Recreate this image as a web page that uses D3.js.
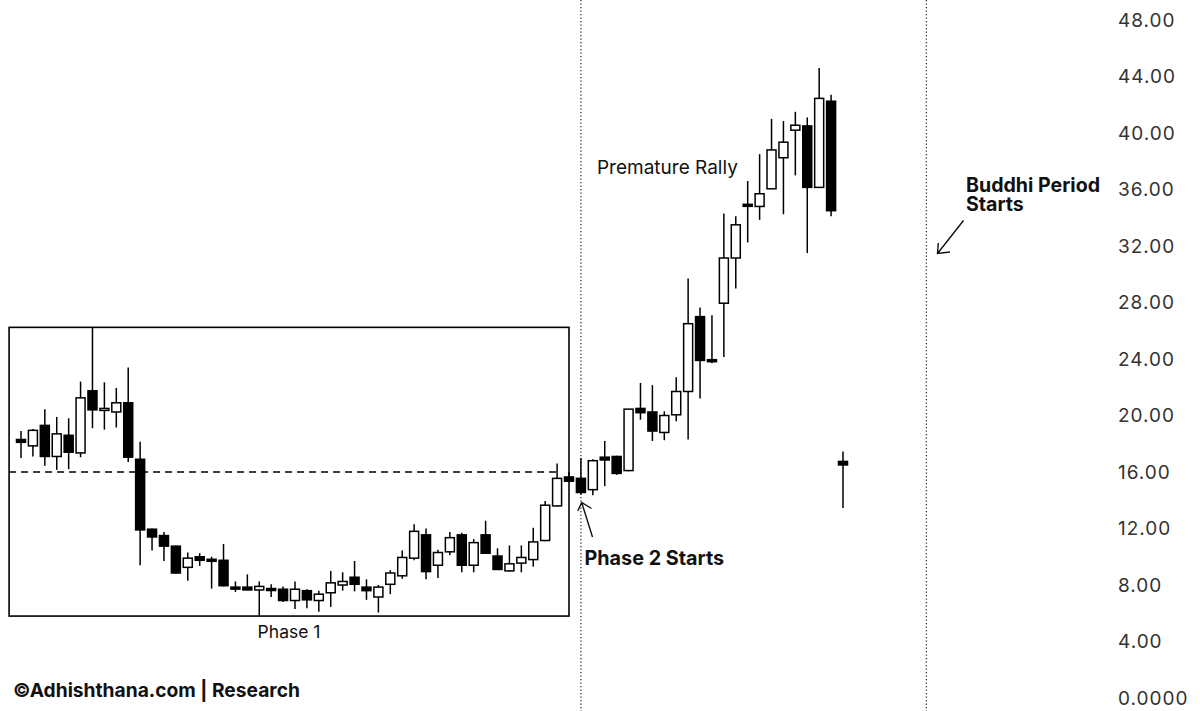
<!DOCTYPE html>
<html><head><meta charset="utf-8">
<script src="https://cdn.jsdelivr.net/npm/d3@7"></script>
<style>
html,body{margin:0;padding:0;background:#fff;}
svg{display:block;font-family:Inter,"Noto Sans",sans-serif;}
</style></head>
<body><svg id="c" width="1200" height="711"></svg>
<script>
// ---- data ----
const opens  = [18.3,17.85,19.3,17.1,18.6,17.35,21.75,20.45,20.25,20.9,16.9,11.95,11.5,10.75,9.25,10.0,9.82,9.75,7.85,7.85,7.65,7.75,7.7,6.9,7.6,6.9,7.45,8.0,8.55,7.85,7.15,8.05,8.65,9.9,11.55,9.4,10.35,11.55,9.4,11.55,10.05,9.0,9.55,9.8,11.15,13.6,15.65,15.55,14.75,17.05,17.1,16.1,20.5,20.25,18.8,20.05,21.7,27.0,23.95,27.95,31.15,34.95,34.8,36.05,38.25,40.2,40.5,36.15,42.25,16.75];
const highs  = [18.9,19.05,20.45,19.9,19.8,22.4,26.2,22.35,21.95,23.4,18.15,12.0,11.75,10.8,10.3,10.25,10.0,10.9,8.25,8.75,8.25,8.05,7.9,8.25,7.7,7.6,9.0,8.9,9.7,8.4,8.0,9.05,10.45,12.3,12.0,10.5,11.75,11.7,11.25,12.55,10.6,10.8,10.8,12.05,13.95,16.6,16.0,17.0,16.9,18.2,17.15,20.45,22.3,22.15,20.3,22.7,29.7,27.65,27.1,34.3,34.1,36.6,38.5,41.0,40.85,41.5,41.1,44.6,42.7,17.45];
const lows   = [17.0,17.1,16.45,16.15,16.2,17.05,19.1,19.0,19.15,16.7,9.4,10.45,9.7,8.8,8.3,9.35,7.75,7.9,7.5,7.65,5.8,7.15,6.8,6.3,6.35,6.1,6.45,7.6,7.55,6.95,6.05,7.35,8.45,9.75,8.4,8.5,10.1,8.9,8.9,10.2,9.1,8.95,8.9,9.3,11.1,13.55,15.3,14.4,14.35,15.0,15.8,16.05,19.7,18.2,18.25,19.6,18.3,21.2,23.7,24.15,29.0,32.25,33.85,36.05,34.25,37.0,31.5,36.15,34.1,13.45];
const closes = [18.1,18.95,17.1,18.7,17.4,21.25,20.4,20.5,20.9,17.05,11.9,11.4,10.75,8.85,9.9,9.75,9.8,7.95,7.8,7.65,7.9,7.7,6.9,7.7,6.95,7.35,8.15,8.25,8.05,7.6,7.85,8.85,9.95,11.8,8.95,10.3,11.35,9.4,11.0,10.25,9.1,9.5,9.95,11.05,13.65,15.55,15.35,14.55,16.8,16.85,15.9,20.45,20.2,18.9,20.0,21.7,26.5,23.9,23.9,31.15,33.5,34.85,35.7,38.8,39.35,40.55,36.15,42.45,34.5,16.5];
const yTicks = [0,4,8,12,16,20,24,28,32,36,40,44,48];
const yTickLabels = ["0.0000","4.00","8.00","12.00","16.00","20.00","24.00","28.00","32.00","36.00","40.00","44.00","48.00"];
const phaseLines = [47, 76];          // candle index of dotted verticals
const baseLevel = 16.0;               // dashed level inside phase 1 box
const phase1Box = {i0:-1, i1:46, top:26.24, bottom:5.8};

// ---- scales ----
const svg = d3.select("#c");
const x = d3.scaleLinear().domain([0, opens.length-1]).range([21, 843]);
const y = d3.scaleLinear().domain([0, 48]).range([698, 20]);
const bw = 9;

// dotted vertical lines
svg.selectAll("line.vl").data(phaseLines).join("line")
  .attr("x1", d=>x(d)).attr("x2", d=>x(d)).attr("y1", 0).attr("y2", 711)
  .attr("stroke", "#333").attr("stroke-width", 1.3).attr("stroke-dasharray", "1.3,2.2");

// phase 1 box
svg.append("rect")
  .attr("x", x(phase1Box.i0)).attr("y", y(phase1Box.top))
  .attr("width", x(phase1Box.i1)-x(phase1Box.i0)).attr("height", y(phase1Box.bottom)-y(phase1Box.top))
  .attr("fill","none").attr("stroke","#000").attr("stroke-width",1.6);

// dashed level line
svg.append("line")
  .attr("x1", x(phase1Box.i0)).attr("x2", x(45.2)).attr("y1", y(baseLevel)).attr("y2", y(baseLevel))
  .attr("stroke","#000").attr("stroke-width",1.3).attr("stroke-dasharray","7,5");

// candles
const idx = d3.range(opens.length);
const g = svg.append("g");
g.selectAll("line.wick").data(idx).join("line")
  .attr("x1", i=>x(i)).attr("x2", i=>x(i))
  .attr("y1", i=>y(highs[i])).attr("y2", i=>y(lows[i]))
  .attr("stroke","#000").attr("stroke-width",1.5);
g.selectAll("rect.body").data(idx).join("rect")
  .attr("x", i=>x(i)-bw/2)
  .attr("y", i=>y(Math.max(opens[i],closes[i])))
  .attr("width", bw)
  .attr("height", i=>Math.max(2, Math.abs(y(opens[i])-y(closes[i]))))
  .attr("fill", i=>closes[i]>=opens[i] ? "#fff" : "#000")
  .attr("stroke","#000").attr("stroke-width",1.5);

// y axis labels
svg.append("g").selectAll("text").data(yTicks).join("text")
  .attr("x", 1118).attr("y", d=>y(d)).attr("dy","0.36em")
  .attr("font-size", 19).attr("letter-spacing", "1px").attr("fill","#333")
  .text((d,i)=>yTickLabels[i]);

// annotations
function txt(xp, yp, s, size, weight, anchor){
  return svg.append("text").attr("x",xp).attr("y",yp).attr("font-size",size)
    .attr("font-weight",weight).attr("text-anchor",anchor||"start").attr("fill","#111").text(s);
}
txt((x(phase1Box.i0)+x(phase1Box.i1))/2, y(phase1Box.bottom)+21.5, "Phase 1", 17.5, 400, "middle");
txt(x(48.35), y(37.1), "Premature Rally", 19, 400);
txt(x(47.3), y(9.42), "Phase 2 Starts", 19.8, 700);
txt(966, 192, "Buddhi Period", 19.6, 700);
txt(966, 211, "Starts", 19.6, 700);
txt(13, 697, "©Adhishthana.com | Research", 19.2, 700);

// arrows
function arrow(x1,y1,x2,y2,h1,h2){
  const p = d3.path();
  p.moveTo(x1,y1); p.lineTo(x2,y2);
  p.moveTo(h1[0],h1[1]); p.lineTo(x2,y2); p.lineTo(h2[0],h2[1]);
  svg.append("path").attr("d",p.toString()).attr("fill","none").attr("stroke","#111").attr("stroke-width",1.4);
}
arrow(592.5, 537, 581.7, 502.5, [577.8,511], [591.5,508.5]);
arrow(963.5, 220.5, 937.5, 253.5, [938.3,243], [950,252]);
</script></body></html>
